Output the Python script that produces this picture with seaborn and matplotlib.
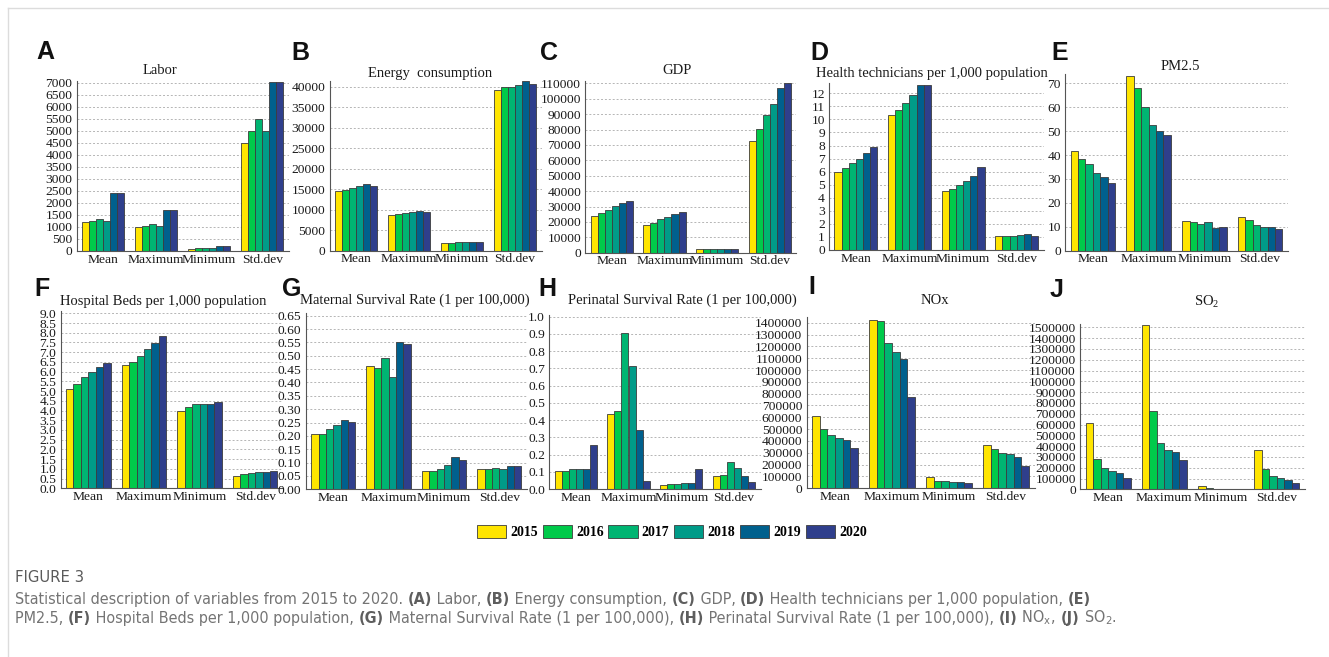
import matplotlib
matplotlib.use("Agg")
import matplotlib.pyplot as plt
from matplotlib.patches import Patch
from matplotlib.lines import Line2D
from matplotlib import font_manager
from matplotlib.font_manager import FontProperties
from matplotlib.ticker import FixedLocator, FormatStrFormatter
import numpy as np
import pandas as pd
import seaborn as sns

# ---------------------------------------------------------------- data
years = ["2015", "2016", "2017", "2018", "2019", "2020"]
stats = ["Mean", "Maximum", "Minimum", "Std.dev"]
year_colors = ["#FFE500", "#00CA4A", "#00B572", "#009B88", "#00608D", "#2F3F8C"]

# rows: Mean, Maximum, Minimum, Std.dev ; columns: 2015..2020
labor = [[1200, 1270, 1325, 1270, 2430, 2430],
         [980, 1060, 1130, 1050, 1700, 1700],
         [85, 110, 110, 110, 195, 195],
         [4490, 5020, 5500, 5020, 7030, 7030]]
energy = [[14630, 14880, 15280, 15690, 16260, 15770],
          [8780, 9020, 9190, 9350, 9590, 9350],
          [1790, 1870, 2030, 2110, 2200, 2110],
          [39270, 40000, 40000, 40490, 41300, 40570]]
gdp = [[23820, 25770, 27930, 30100, 32260, 33350],
       [17760, 19490, 21650, 23390, 25340, 26200],
       [2170, 2170, 2380, 2600, 2600, 2600],
       [72540, 80120, 89210, 96790, 107180, 110440]]
health_tech = [[6.0, 6.3, 6.65, 7.0, 7.4, 7.85],
               [10.35, 10.75, 11.25, 11.9, 12.6, 12.6],
               [4.55, 4.65, 4.95, 5.25, 5.7, 6.35],
               [1.05, 1.1, 1.1, 1.15, 1.2, 1.1]]
pm25 = [[41.7, 38.2, 36.3, 32.6, 30.8, 28.4],
        [73.1, 67.9, 60.0, 52.6, 50.1, 48.2],
        [12.4, 12.0, 11.2, 12.1, 9.5, 9.8],
        [14.2, 12.7, 10.9, 9.9, 9.8, 9.1]]
hospital_beds = [[5.11, 5.35, 5.71, 5.98, 6.24, 6.45],
                 [6.33, 6.48, 6.79, 7.15, 7.46, 7.85],
                 [3.98, 4.20, 4.35, 4.34, 4.34, 4.44],
                 [0.65, 0.72, 0.79, 0.84, 0.84, 0.87]]
maternal = [[0.208, 0.206, 0.226, 0.241, 0.260, 0.252],
            [0.463, 0.454, 0.492, 0.419, 0.553, 0.543],
            [0.069, 0.067, 0.076, 0.090, 0.121, 0.109],
            [0.077, 0.076, 0.081, 0.077, 0.087, 0.086]]
perinatal = [[0.103, 0.103, 0.114, 0.114, 0.114, 0.255],
             [0.433, 0.455, 0.907, 0.714, 0.344, 0.048],
             [0.023, 0.031, 0.031, 0.037, 0.037, 0.114],
             [0.075, 0.083, 0.157, 0.120, 0.074, 0.041]]
nox = [[614000, 499000, 448000, 428000, 411000, 338000],
       [1423000, 1414000, 1225000, 1155000, 1093000, 769000],
       [93000, 59000, 59000, 54000, 54000, 42000],
       [366000, 335000, 301000, 290000, 268000, 189000]]
so2 = [[614000, 281000, 198000, 170000, 148000, 102000],
       [1522000, 725000, 429000, 361000, 349000, 269000],
       [31000, 12000, 6000, 3000, 3000, 3000],
       [361000, 185000, 127000, 108000, 90000, 62000]]

# ---------------------------------------------------------------- layout
W, H = 1329, 657
fig = plt.figure(figsize=(W / 100, H / 100), dpi=100)
fig.patch.set_facecolor("white")

SERIF = "Liberation Serif"
plt.rcParams["mathtext.fontset"] = "custom"
plt.rcParams["mathtext.rm"] = SERIF
plt.rcParams["mathtext.it"] = SERIF + ":italic"


def fx(x):
    return x / W


def fy(y):
    return 1 - y / H


# letter, title, values, axes box (left, right, zero px, ref px, ref value), ylim top, tick step, fmt,
# title position, letter position
panels = [
    ("A", "Labor", labor, (76.7, 288.7, 251.0, 83.0, 7000), 7100, 500, "%d", (160, 70), (45, 52)),
    ("B", "Energy  consumption", energy, (329.5, 541.5, 250.7, 86.7, 40000), 41500, 5000, "%d", (430, 73), (300, 53)),
    ("C", "GDP", gdp, (585.3, 796.4, 252.7, 83.3, 110000), 111500, 10000, "%d", (677, 70), (549, 53)),
    ("D", "Health technicians per 1,000 population", health_tech, (829.0, 1043.6, 250.0, 93.3, 12), 12.8, 1, "%d", (932, 73), (819, 53)),
    ("E", "PM2.5", pm25, (1065.0, 1288.0, 250.7, 83.3, 70), 74, 10, "%d", (1180, 67), (1060, 53)),
    ("F", "Hospital Beds per 1,000 population", hospital_beds, (60.5, 283.0, 488.3, 313.3, 9.0), 9.1, 0.5, "%.1f", (163, 302), (42, 289)),
    ("G", "Maternal Survival Rate (1 per 100,000)", maternal, (305.6, 527.0, 489.3, 315.7, 0.65), 0.66, 0.05, "%.2f", (415, 300), (292, 289)),
    ("H", "Perinatal Survival Rate (1 per 100,000)", perinatal, (549.3, 760.5, 489.0, 316.7, 1.0), 1.01, 0.1, "%.1f", (682, 300), (547, 289)),
    ("I", "NOx", nox, (806.5, 1034.5, 488.3, 322.7, 1400000), 1450000, 100000, "%d", (935, 301), (812, 287)),
    ("J", "SO$_2$", so2, (1080.0, 1304.8, 489.3, 327.3, 1500000), 1530000, 100000, "%d", (1207, 302), (1057, 290)),
]

for letter, title, values, box, ytop, step, fmt, tpos, lpos in panels:
    left, right, y0, yref, vref = box
    top_px = y0 - (y0 - yref) * ytop / vref
    ax = fig.add_axes([fx(left), fy(y0), (right - left) / W, (y0 - top_px) / H])

    df = pd.DataFrame(
        [(s, y, values[i][j]) for i, s in enumerate(stats) for j, y in enumerate(years)],
        columns=["stat", "year", "value"],
    )
    sns.barplot(data=df, x="stat", y="value", hue="year", order=stats, hue_order=years,
                palette=year_colors, saturation=1, width=0.8, edgecolor="#3c3c3c",
                linewidth=0.6, legend=False, ax=ax, err_kws={"linewidth": 0})

    ax.set_xlim(-0.5, 3.5)
    ax.set_ylim(0, ytop)
    n = int(round(vref / step))
    ax.yaxis.set_major_locator(FixedLocator([k * step for k in range(n + 1)]))
    ax.yaxis.set_major_formatter(FormatStrFormatter(fmt))
    ax.set_xlabel("")
    ax.set_ylabel("")
    ax.set_axisbelow(True)
    ax.yaxis.grid(True, linestyle=(0, (2, 2)), color="#b5b5b5", linewidth=0.7)
    ax.xaxis.grid(False)
    ax.set_facecolor("none")
    for side in ("top", "right"):
        ax.spines[side].set_visible(False)
    for side in ("left", "bottom"):
        ax.spines[side].set_color("#555555")
        ax.spines[side].set_linewidth(0.8)
    ax.tick_params(axis="both", length=0, colors="#1a1a1a")
    ax.tick_params(axis="y", pad=3)
    ax.tick_params(axis="x", pad=2)
    for lab in ax.get_yticklabels():
        lab.set_fontfamily(SERIF)
        lab.set_fontsize(9.7)
    for lab in ax.get_xticklabels():
        lab.set_fontfamily(SERIF)
        lab.set_fontsize(9.7)

    fig.text(fx(tpos[0]), fy(tpos[1]), title, ha="center", va="center",
             fontfamily=SERIF, fontsize=10.5, color="#1a1a1a")
    fig.text(fx(lpos[0]), fy(lpos[1]), letter, ha="center", va="center",
             fontfamily="Liberation Sans", fontweight="bold", fontsize=18, color="#111111")

# ---------------------------------------------------------------- legend
handles = [Patch(facecolor=c, edgecolor="#3c3c3c", linewidth=0.6) for c in year_colors]
fig.legend(handles, years, loc="center", bbox_to_anchor=(fx(672), fy(532)), ncol=6,
           frameon=False, prop=FontProperties(family=SERIF, weight="bold", size=10),
           handlelength=2.1, handleheight=1.05, handletextpad=0.3, columnspacing=0.35,
           borderpad=0, borderaxespad=0)

# ---------------------------------------------------------------- page frame
fig.add_artist(Line2D([fx(8), fx(8)], [fy(8), 0], color="#dcdcdc", linewidth=1))
fig.add_artist(Line2D([fx(8), 1], [fy(8), fy(8)], color="#dcdcdc", linewidth=1))

# ---------------------------------------------------------------- caption
available = {f.name for f in font_manager.fontManager.ttflist}
cap_family = "Liberation Sans Narrow" if "Liberation Sans Narrow" in available else "DejaVu Sans"

renderer = fig.canvas.get_renderer()


def cap_font(size, bold=False):
    return FontProperties(family=cap_family, stretch="condensed",
                          weight="bold" if bold else "normal", size=size)


def measure(s, fp):
    t = fig.text(0, 0, s, fontproperties=fp)
    w = t.get_window_extent(renderer).width
    t.remove()
    return w


def piece_width(s, fp):
    return measure("x" + s + "x", fp) - measure("xx", fp)


line1 = [("Statistical description of variables from 2015 to 2020. ", False), ("(A)", True),
         (" Labor, ", False), ("(B)", True), (" Energy consumption, ", False), ("(C)", True),
         (" GDP, ", False), ("(D)", True), (" Health technicians per 1,000 population, ", False),
         ("(E)", True)]
line2 = [("PM2.5, ", False), ("(F)", True), (" Hospital Beds per 1,000 population, ", False),
         ("(G)", True), (" Maternal Survival Rate (1 per 100,000), ", False), ("(H)", True),
         (" Perinatal Survival Rate (1 per 100,000), ", False), ("(I)", True),
         (" NO$_\\mathregular{x}$, ", False), ("(J)", True), (" SO$_\\mathregular{2}$.", False)]

base = 10.0
natural = sum(piece_width(s, cap_font(base, b)) for s, b in line1)
cap_size = min(base * (1247 / natural), 11.5)


def draw_line(pieces, x0, baseline):
    x = x0
    for s, b in pieces:
        fp = cap_font(cap_size, b)
        fig.text(fx(x), fy(baseline), s, fontproperties=fp,
                 color="#5e5e5e" if b else "#747474", ha="left", va="baseline")
        x += piece_width(s, fp)


fig.text(fx(15), fy(582), "FIGURE 3", fontproperties=cap_font(cap_size * 1.03),
         color="#5a5a5a", ha="left", va="baseline")
draw_line(line1, 15, 604)
draw_line(line2, 15, 623)

fig.savefig("out.png", dpi=100, facecolor="white")
